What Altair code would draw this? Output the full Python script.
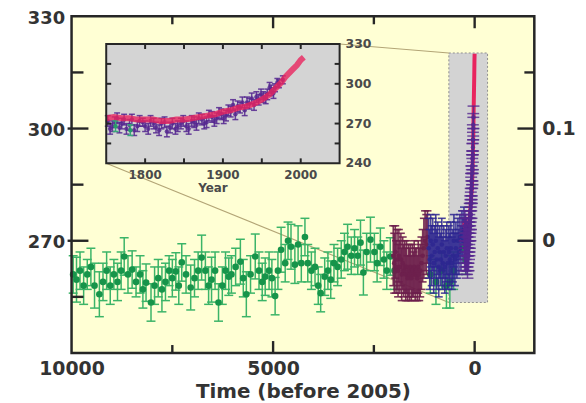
import altair as alt
import pandas as pd

# ---------------- data ----------------
# Main panel: N2O (ppb) from ice cores, time in years before 2005
GREEN_T = [9960, 9877, 9790, 9700, 9610, 9520, 9430, 9310, 9220, 9130, 9040, 8950, 8860, 8770,
           8694, 8600, 8497, 8400, 8300, 8230, 8152, 8029, 7940, 7850, 7758, 7670, 7580, 7500,
           7413, 7340, 7266, 7160, 7044, 6950, 6860, 6773, 6680, 6600, 6527, 6440, 6354, 6260,
           6180, 6100, 6034, 5930, 5812, 5740, 5664, 5560, 5443, 5350, 5270, 5196, 5100, 5030,
           4950, 4880, 4802, 4700, 4630, 4556, 4460, 4380, 4300, 4210, 4140, 4050, 3960, 3880,
           3820, 3720, 3640, 3570, 3490, 3400, 3310, 3230, 3152, 3060, 2980, 2900, 2832, 2760,
           2680, 2585, 2487, 2420, 2339, 2250, 2180, 2093, 1990, 1100, 960, 820, 700, 615, 520]
GREEN_V = [261, 259.6, 262, 258, 261, 263, 258, 255.7, 259, 262, 258, 261, 259, 262,
           265.8, 261, 262.3, 259, 261, 257, 258.8, 253.5, 258, 260, 257, 259, 262, 260,
           261.8, 258, 264.2, 261, 257.5, 260, 262, 265.5, 262, 258, 259.6, 262, 253.5, 258,
           262, 260.4, 261, 263, 264.4, 260, 255.7, 261, 265.8, 262, 259, 260.4, 262, 260,
           255.2, 262, 267.6, 264, 270, 268.4, 263.6, 269, 264, 271, 264, 262, 263, 258,
           256, 260.4, 262, 259.6, 264, 263, 265, 267, 268.4, 266, 268, 266, 269.5, 261.5,
           267, 270.3, 267, 264, 268.4, 265, 262, 265.8, 262, 261, 259, 262, 258, 259, 262]
GREEN_E = [5, 6, 5, 5, 4, 5, 6, 6, 5, 5, 5, 4, 5, 5,
           5, 5, 5, 4, 5, 5, 5, 5, 5, 5, 6, 5, 4, 5,
           5, 5, 5, 5, 6, 5, 5, 6, 5, 5, 6, 5, 5, 5,
           5, 5, 5, 5, 6, 5, 6, 5, 6, 5, 5, 5, 5, 5,
           5, 5, 6, 5, 5, 6, 5, 5, 5, 5, 5, 5, 5, 5,
           5, 5, 5, 5, 5, 5, 5, 5, 6, 5, 5, 5, 6, 6,
           5, 6, 5, 5, 5, 5, 5, 5, 5, 5, 6, 5, 6, 7, 5]

MAROON_T = [2020, 1995, 1970, 1950, 1925, 1900, 1880, 1855, 1830, 1810, 1785, 1760, 1735, 1710,
            1690, 1665, 1640, 1615, 1595, 1570, 1545, 1520, 1500, 1475, 1450, 1425, 1400, 1375,
            1350, 1320, 1290, 1260, 1230, 1200, 1170]
MAROON_V = [266, 264, 267, 263, 265, 262, 266, 263, 265, 261, 264, 262, 263, 261,
            263, 260, 262, 261, 263, 260, 262, 261, 263, 261, 262, 260, 263, 261,
            262, 264, 266, 268, 270, 269, 271]
MAROON_E = [8, 8, 7, 7, 8, 7, 7, 7, 7, 7, 7, 7, 7, 7,
            7, 6, 7, 7, 6, 6, 7, 6, 7, 7, 6, 6, 7, 7,
            7, 7, 7, 8, 8, 8, 7]

BLUE_T = [1140, 1115, 1090, 1065, 1040, 1015, 990, 965, 940, 915, 890, 865, 840, 815, 790, 765,
          740, 715, 690, 665, 640, 615, 590, 565, 540, 515, 490, 465, 440, 415, 390, 365, 340,
          315, 290, 265]
BLUE_V = [268, 265, 270, 266, 269, 264, 267, 270, 265, 268, 263, 267, 265, 269, 264, 267,
          263, 266, 268, 264, 267, 265, 268, 264, 266, 270, 265, 268, 266, 270, 267, 271, 268,
          272, 270, 273]
BLUE_E = [8, 8, 7, 8, 7, 8, 7, 7, 8, 7, 8, 7, 7, 7, 7, 7,
          7, 7, 7, 7, 7, 7, 7, 7, 7, 7, 7, 7, 6, 6, 6, 6, 6,
          6, 6, 6]

# Inset (and recent part of main panel): calendar years
PURPLE_YEAR = [1752, 1755, 1758, 1761, 1764, 1767, 1770, 1773, 1776, 1780, 1783, 1786, 1790,
               1793, 1797, 1800, 1804, 1807, 1811, 1814, 1818, 1821, 1825, 1828, 1832, 1835,
               1839, 1842, 1846, 1849, 1853, 1856, 1860, 1863, 1866, 1869, 1873, 1876, 1879,
               1882, 1886, 1889, 1892, 1895, 1898, 1901, 1904, 1907, 1910, 1913, 1916, 1919,
               1922, 1925, 1928, 1931, 1934, 1937, 1940, 1943, 1946, 1949, 1952, 1955, 1957,
               1960, 1962, 1965, 1967, 1970, 1972, 1977]
PURPLE_V = [272, 266, 268, 271, 274, 267, 270, 273, 266, 269, 273, 265, 268,
            272, 271, 268, 266, 272, 270, 267, 265, 270, 271, 264, 267, 270,
            266, 268, 270, 272, 268, 266, 272, 271, 269, 274, 273, 270, 271,
            276, 275, 272, 274, 278, 277, 274, 276, 280, 279, 284, 277, 283,
            282, 286, 280, 286, 285, 289, 284, 290, 288, 292, 290, 289, 292,
            297, 295, 293, 297, 301, 300, 303]
PURPLE_E = [4, 4, 4, 4, 4, 4, 4, 4, 4, 4, 4, 4, 4,
            4, 3, 4, 4, 4, 4, 4, 4, 4, 4, 4, 4, 4,
            4, 4, 4, 4, 4, 4, 4, 4, 4, 4, 4, 4, 4,
            4, 4, 4, 4, 4, 4, 4, 4, 4, 4, 4, 4, 4,
            4, 4, 4, 4, 4, 4, 4, 4, 4, 4, 4, 4, 4,
            4, 4, 4, 3, 3, 3, 3]

RED_YEAR = [1750, 1760, 1770, 1780, 1790, 1800, 1810, 1820, 1830, 1840, 1850, 1860, 1870, 1880,
            1890, 1900, 1910, 1920, 1930, 1940, 1950, 1960, 1965, 1970, 1975, 1980, 1985, 1990,
            1995, 2000, 2004]
RED_V = [274, 275, 274, 274, 273, 273, 273, 272, 272, 273, 273, 274, 275, 276,
         277, 279, 280, 282, 283, 285, 288, 292, 295, 298, 301, 305, 308, 311,
         314, 318, 320]

INSET_GREEN_YEAR = [1762, 1781]
INSET_GREEN_V = [268, 265]

# Axis ticks and labels
X_LABELS = [10000, 5000, 0]
X_MAJOR = [5000, 0]
X_MINOR = [7500, 2500]
Y_LABELS = [330, 300, 270]
Y_MAJOR = [300, 270]
Y_MINOR_LEFT = [315, 285, 255]
Y_MINOR_RIGHT = [315, 285]
RF_PPB = [300, 270]          # radiative forcing ticks (right axis)
RF_LABELS = ["0.1", "0"]
INSET_X_LABELS = [1800, 1900, 2000]
INSET_X_TICKS = [1800, 1850, 1900, 1950, 2000]
INSET_Y_LABELS = [330, 300, 270, 240]
INSET_Y_TICKS = [315, 300, 285, 270, 255]

# Zoomed region (main coords) and inset placement (main coords)
ZOOM_BOX_T = [640, -320]
ZOOM_BOX_V = [253.5, 320.2]
INSET_BOX_T = [9140, 3350]
INSET_BOX_V = [290.7, 322.6]

# ---------------- layout ----------------
W, H = 466, 339
T_DOM = [-1480, 10000]
V_DOM = [240, 330]
YEAR_DOM = [1750, 2050]


def px_x(t):
    return (T_DOM[1] - t) / (T_DOM[1] - T_DOM[0]) * W


def px_y(v):
    return (V_DOM[1] - v) / (V_DOM[1] - V_DOM[0]) * H


IX0, IX1 = px_x(INSET_BOX_T[0]), px_x(INSET_BOX_T[1])
IY_TOP, IY_BOT = px_y(INSET_BOX_V[1]), px_y(INSET_BOX_V[0])

FONT = "DejaVu Sans"
FRAME = "#262626"
TXT = "#333333"
PLOT_BG = "#FFFFD4"
GREEN_DOT = "#17944A"
GREEN_BAR = "#3BB468"
MAROON = "#6D1F4D"
BLUE = "#2D2690"
PURPLE = "#55278F"
RED = "#E8245E"

XS = alt.Scale(domain=T_DOM, reverse=True, nice=False, zero=False)
YS = alt.Scale(domain=V_DOM, nice=False, zero=False)
XAX = alt.Axis(values=X_LABELS, format="d", labelFont=FONT, labelFontSize=19,
               labelFontWeight="bold", labelColor=TXT, labelPadding=7, ticks=False,
               tickSize=0, domain=False, grid=False, labelFlush=False, labelOverlap=False,
               title="Time (before 2005)", titleFont=FONT, titleFontSize=20,
               titleFontWeight="bold", titleColor=TXT, titlePadding=3)
YAX = alt.Axis(values=Y_LABELS, format="d", labelFont=FONT, labelFontSize=18,
               labelFontWeight="bold", labelColor=TXT, labelPadding=7, labelOffset=2,
               ticks=False, tickSize=0, domain=False, grid=False, labelFlush=False,
               labelOverlap=False, title=None)

IXS = alt.Scale(domain=YEAR_DOM, range=[IX0, IX1], nice=False, zero=False)
IYS = alt.Scale(domain=V_DOM, range=[IY_BOT, IY_TOP], nice=False, zero=False)


def MX(f):
    return alt.X(f"{f}:Q", scale=XS, axis=XAX)


def MY(f):
    return alt.Y(f"{f}:Q", scale=YS, axis=YAX)


def IX(f):
    return alt.X(f"{f}:Q", scale=IXS, axis=None)


def IY(f):
    return alt.Y(f"{f}:Q", scale=IYS, axis=None)


def series(df, ex, ey, xf, bar_color, dot_color, cap, sw, size, opacity=1.0, calc=None):
    base = alt.Chart(df)
    if calc:
        base = base.transform_calculate(**calc)
    base = base.transform_calculate(lo="datum.v - datum.e", hi="datum.v + datum.e")
    bars = base.mark_rule(color=bar_color, strokeWidth=sw, opacity=opacity).encode(
        x=ex(xf), y=ey("lo"), y2="hi:Q")
    cap_lo = base.mark_rule(color=bar_color, strokeWidth=sw, opacity=opacity,
                            xOffset=-cap / 2, x2Offset=cap / 2).encode(
        x=ex(xf), x2=f"{xf}:Q", y=ey("lo"))
    cap_hi = base.mark_rule(color=bar_color, strokeWidth=sw, opacity=opacity,
                            xOffset=-cap / 2, x2Offset=cap / 2).encode(
        x=ex(xf), x2=f"{xf}:Q", y=ey("hi"))
    dots = base.mark_circle(color=dot_color, size=size, opacity=opacity).encode(
        x=ex(xf), y=ey("v"))
    return [bars, cap_lo, cap_hi, dots]


green_df = pd.DataFrame({"t": GREEN_T, "v": GREEN_V, "e": GREEN_E})
maroon_df = pd.DataFrame({"t": MAROON_T, "v": MAROON_V, "e": MAROON_E})
blue_df = pd.DataFrame({"t": BLUE_T, "v": BLUE_V, "e": BLUE_E})
purple_df = pd.DataFrame({"year": PURPLE_YEAR, "v": PURPLE_V, "e": PURPLE_E})
red_df = pd.DataFrame({"year": RED_YEAR, "v": RED_V})
igreen_df = pd.DataFrame({"year": INSET_GREEN_YEAR, "v": INSET_GREEN_V, "e": [4, 4]})
TO_T = {"t": "2005 - datum.year"}
one_row = pd.DataFrame({"v": [V_DOM[0]]})

# ---------------- main panel ----------------
plot_bg = alt.Chart(one_row).mark_rect(fill=PLOT_BG, strokeWidth=0).encode(
    x=alt.value(0), x2=alt.value(W), y=alt.value(0), y2=alt.value(H))
plot_frame = alt.Chart(one_row).mark_rect(fillOpacity=0, stroke=FRAME, strokeWidth=2.5).encode(
    x=alt.value(0), x2=alt.value(W), y=alt.value(0), y2=alt.value(H))

box_df = pd.DataFrame({"t0": [ZOOM_BOX_T[0]], "t1": [ZOOM_BOX_T[1]],
                       "v0": [ZOOM_BOX_V[0]], "v1": [ZOOM_BOX_V[1]]})
zoom_box = alt.Chart(box_df).mark_rect(fill="#D3D3D3", stroke="#8F8F8F", strokeDash=[2, 2],
                                        strokeWidth=1).encode(
    x=MX("t0"), x2="t1:Q", y=MY("v0"), y2="v1:Q")

conn_df = pd.DataFrame({"t0": INSET_BOX_T, "v0": INSET_BOX_V,
                        "t1": [ZOOM_BOX_T[0], ZOOM_BOX_T[0]], "v1": ZOOM_BOX_V})
connectors = alt.Chart(conn_df).mark_rule(color="#B3A576", strokeWidth=1.1).encode(
    x=MX("t0"), x2="t1:Q", y=MY("v0"), y2="v1:Q")

main_layers = [plot_bg, zoom_box, connectors]
main_layers += series(green_df, MX, MY, "t", GREEN_BAR, GREEN_DOT, 9, 1.5, 45)
main_layers += series(maroon_df, MX, MY, "t", MAROON, MAROON, 8, 1.6, 22, 0.9)
main_layers += series(blue_df, MX, MY, "t", BLUE, BLUE, 8, 1.6, 22, 0.85)
main_layers += series(igreen_df, MX, MY, "t", GREEN_BAR, GREEN_DOT, 9, 1.5, 40, calc=TO_T)
main_layers.append(
    alt.Chart(red_df).transform_calculate(**TO_T).mark_line(color=RED, strokeWidth=4).encode(
        x=MX("t"), y=MY("v")))
main_layers += series(purple_df, MX, MY, "t", PURPLE, PURPLE, 12, 1.5, 20, 0.8, calc=TO_T)


def xticks(vals, length):
    df = pd.DataFrame({"t": vals})
    b = alt.Chart(df).mark_rule(color=FRAME, strokeWidth=2.4).encode(
        x=MX("t"), y=alt.value(H), y2=alt.value(H - length))
    t = alt.Chart(df).mark_rule(color=FRAME, strokeWidth=2.4).encode(
        x=MX("t"), y=alt.value(0), y2=alt.value(length))
    return [b, t]


def yticks(vals, a, b):
    df = pd.DataFrame({"v": vals})
    return alt.Chart(df).mark_rule(color=FRAME, strokeWidth=2.4).encode(
        y=MY("v"), x=alt.value(a), x2=alt.value(b))


main_layers.append(plot_frame)
main_layers += xticks(X_MAJOR, 12)
main_layers += xticks(X_MINOR, 8)
main_layers.append(yticks(Y_MAJOR, -4, 17))
main_layers.append(yticks(Y_MINOR_LEFT, 0, 12))
main_layers.append(yticks(Y_MAJOR, W - 17, W))
main_layers.append(yticks(Y_MINOR_RIGHT, W - 10, W))

rf_df = pd.DataFrame({"v": RF_PPB, "label": RF_LABELS})
main_layers.append(
    alt.Chart(rf_df).mark_text(align="left", baseline="middle", font=FONT, fontSize=19,
                               fontWeight="bold", color=TXT).encode(
        x=alt.value(W + 8), y=MY("v"), text="label:N"))

main = alt.layer(*main_layers)

# ---------------- inset ----------------
ibg_df = pd.DataFrame({"x0": [YEAR_DOM[0]], "x1": [YEAR_DOM[1]],
                       "y0": [V_DOM[0]], "y1": [V_DOM[1]]})
inset_layers = [
    alt.Chart(ibg_df).mark_rect(fill="#D4D4D4", strokeWidth=0).encode(
        x=IX("x0"), x2="x1:Q", y=IY("y0"), y2="y1:Q")
]
inset_layers += series(purple_df, IX, IY, "year", PURPLE, PURPLE, 6, 1.5, 20, 0.85)
inset_layers += series(igreen_df, IX, IY, "year", "#3AA87A", "#2A9A6A", 6, 1.5, 20)
inset_layers.append(
    alt.Chart(red_df).mark_line(color=RED, strokeWidth=6, opacity=0.8).encode(
        x=IX("year"), y=IY("v")))
inset_layers.append(
    alt.Chart(ibg_df).mark_rect(fillOpacity=0, stroke=FRAME, strokeWidth=2).encode(
        x=IX("x0"), x2="x1:Q", y=IY("y0"), y2="y1:Q"))

ixt = pd.DataFrame({"year": INSET_X_TICKS})
iyt = pd.DataFrame({"v": INSET_Y_TICKS})
inset_layers += [
    alt.Chart(ixt).mark_rule(color=FRAME, strokeWidth=2).encode(
        x=IX("year"), y=alt.value(IY_BOT), y2=alt.value(IY_BOT - 5)),
    alt.Chart(ixt).mark_rule(color=FRAME, strokeWidth=2).encode(
        x=IX("year"), y=alt.value(IY_TOP), y2=alt.value(IY_TOP + 5)),
    alt.Chart(iyt).mark_rule(color=FRAME, strokeWidth=2).encode(
        y=IY("v"), x=alt.value(IX0), x2=alt.value(IX0 + 5)),
    alt.Chart(iyt).mark_rule(color=FRAME, strokeWidth=2).encode(
        y=IY("v"), x=alt.value(IX1 - 5), x2=alt.value(IX1)),
]

ixl = pd.DataFrame({"year": INSET_X_LABELS})
iyl = pd.DataFrame({"v": INSET_Y_LABELS})
ititle = pd.DataFrame({"label": ["Year"]})
inset_layers += [
    alt.Chart(ixl).mark_text(baseline="middle", font=FONT, fontSize=12, fontWeight="bold",
                             color="#4A4A4A").encode(
        x=IX("year"), y=alt.value(IY_BOT + 12), text="year:Q"),
    alt.Chart(iyl).mark_text(align="left", baseline="middle", font=FONT, fontSize=12.5,
                             fontWeight="bold", color="#4A4A4A").encode(
        x=alt.value(IX1 + 6), y=IY("v"), text="v:Q"),
    alt.Chart(ititle).mark_text(baseline="middle", font=FONT, fontSize=12, fontWeight="bold",
                                color="#4A4A4A").encode(
        x=alt.value((IX0 + IX1) / 2 - 10), y=alt.value(IY_BOT + 25), text="label:N"),
]

inset = alt.layer(*inset_layers)

chart = (
    alt.layer(main, inset)
    .resolve_scale(x="independent", y="independent")
    .properties(width=W, height=H,
                padding={"left": 64, "top": 7, "right": 44, "bottom": 51},
                autosize=alt.AutoSizeParams(type="none"))
    .configure_view(stroke=None)
    .configure(background="white")
)

chart.save("out.html", embed_options={"renderer": "svg", "actions": False})
